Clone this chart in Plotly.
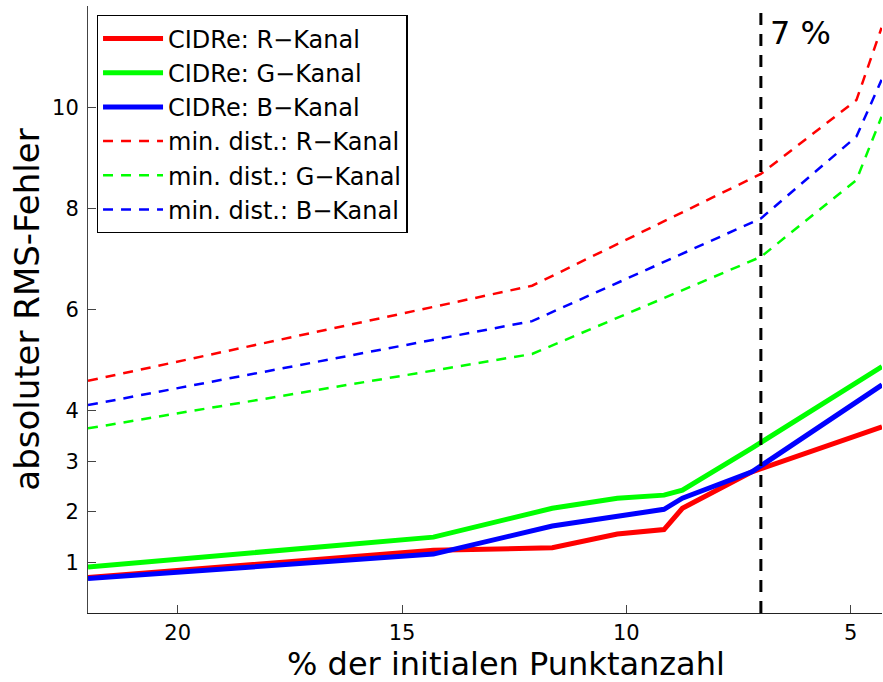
import plotly.graph_objects as go

# --- data ---
x_cidre = [22.0, 14.3, 11.65, 10.2, 9.16, 8.75, 7.2, 4.3]
cidre_r = [0.70, 1.24, 1.29, 1.56, 1.65, 2.07, 2.79, 3.68]
cidre_g = [0.91, 1.50, 2.07, 2.27, 2.33, 2.43, 3.26, 4.87]
cidre_b = [0.68, 1.165, 1.72, 1.90, 2.05, 2.27, 2.79, 4.51]

x_mind = [22.0, 12.1, 7.0, 4.87, 4.31]
mind_r = [4.59, 6.47, 8.68, 10.14, 11.57]
mind_g = [3.65, 5.12, 7.04, 8.56, 9.81]
mind_b = [4.11, 5.77, 7.80, 9.42, 10.54]

marker_x = 7.0
marker_label = "7 %"
y_ticks = [1, 2, 3, 4, 6, 8, 10]
x_ticks = [20, 15, 10, 5]
x_title = "% der initialen Punktanzahl"
y_title = "absoluter RMS-Fehler"

FONT = "DejaVu Sans"
RED, GREEN, BLUE = "#FF0000", "#00FF00", "#0000FF"

fig = go.Figure()
for name, y, c in [("CIDRe: R\u2212Kanal", cidre_r, RED),
                   ("CIDRe: G\u2212Kanal", cidre_g, GREEN),
                   ("CIDRe: B\u2212Kanal", cidre_b, BLUE)]:
    fig.add_trace(go.Scatter(x=x_cidre, y=y, mode="lines", name=name,
                             line=dict(color=c, width=5)))
for name, y, c in [("min. dist.: R\u2212Kanal", mind_r, RED),
                   ("min. dist.: G\u2212Kanal", mind_g, GREEN),
                   ("min. dist.: B\u2212Kanal", mind_b, BLUE)]:
    fig.add_trace(go.Scatter(x=x_mind, y=y, mode="lines", name=name,
                             line=dict(color=c, width=2.5, dash="10px,8px")))

fig.add_trace(go.Scatter(x=[marker_x, marker_x], y=[0, 12], mode="lines",
                         showlegend=False, hoverinfo="skip",
                         line=dict(color="black", width=3, dash="12px,9px")))

fig.add_annotation(x=marker_x, y=12, xref="x", yref="y", text=marker_label,
                   showarrow=False, xanchor="left", yanchor="top",
                   xshift=7, yshift=-6, font=dict(family=FONT, size=32, color="black"))

# x-axis title placed as in the reference (slightly right of centre)
fig.add_annotation(x=0.5264, y=-0.084, xref="paper", yref="paper", text=x_title,
                   showarrow=False, xanchor="center", yanchor="middle",
                   font=dict(family=FONT, size=32, color="black"))

fig.update_layout(
    width=883, height=682,
    margin=dict(l=88, r=1, t=6, b=69),
    plot_bgcolor="white", paper_bgcolor="white",
    font=dict(family=FONT, color="black"),
    showlegend=True,
    legend=dict(x=0.011, y=0.985, xanchor="left", yanchor="top",
                bgcolor="white", bordercolor="black", borderwidth=1.3,
                font=dict(family=FONT, size=24, color="black"),
                itemwidth=60, tracegroupgap=0),
)
fig.update_xaxes(range=[22, 4.3], tickvals=x_ticks, ticks="inside", ticklen=8,
                 tickcolor="#444", showline=True, linecolor="#222", linewidth=1,
                 showgrid=False, zeroline=False, automargin=False,
                 tickfont=dict(family=FONT, size=21), ticklabelstandoff=1)
fig.update_yaxes(range=[0, 12], tickvals=y_ticks, ticks="inside", ticklen=8,
                 tickcolor="#444", showline=True, linecolor="#444", linewidth=1,
                 showgrid=False, zeroline=False, automargin=False,
                 tickfont=dict(family=FONT, size=21), ticklabelstandoff=4,
                 title=dict(text=y_title,
                            font=dict(family=FONT, size=34), standoff=2))

fig.write_html("out.html", config={"displayModeBar": False},
               post_script="document.body.style.margin='0px';")
